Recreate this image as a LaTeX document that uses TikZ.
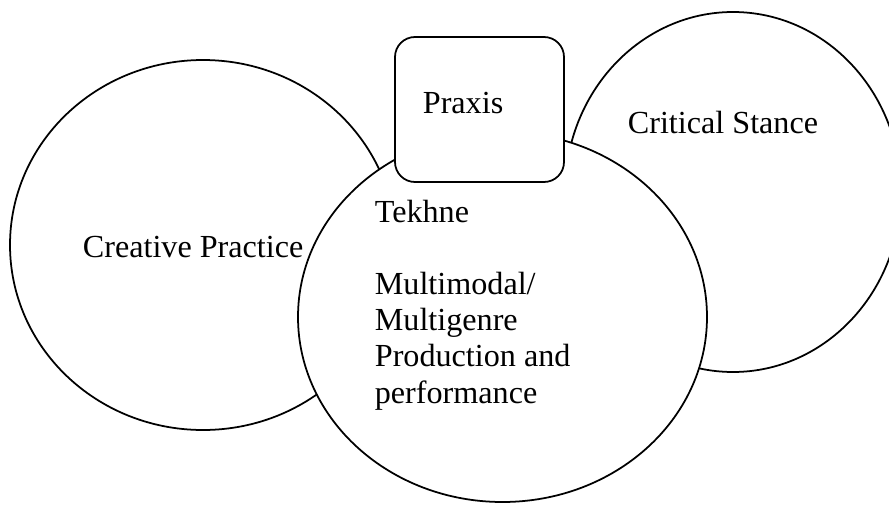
\documentclass[tikz,border=0pt]{standalone}
\usepackage{fontspec}
\setmainfont{Liberation Serif}
\usetikzlibrary{calc}

\begin{document}
\begin{tikzpicture}[x=0.02cm, y=-0.02cm, line width=1pt,
  lbl/.style={anchor=base west, inner sep=0pt, font=\fontsize{18.3}{20.5}\selectfont}]
 \useasboundingbox (0,0) rectangle (889,504);

 %circles: left, right, middle
 \foreach \cx/\cy/\rx/\ry in {203/245/193/185, 733/192/168/180, 502.5/317/204.5/185} {
         \draw[fill=white] (\cx,\cy) ellipse [x radius=\rx, y radius=\ry];
 }

 %praxis box on top
 \draw[fill=white, rounded corners=0.4cm] (395,37) rectangle (564,182);

 %labels
 \node[lbl] (praxis) at (422,113) {Praxis};
 \node[lbl] (critical) at (627,133) {Critical Stance};
 \node[lbl] (creative) at (82,257) {Creative Practice};
 % base of a multi-line node sits on its last line
 \node[lbl, align=left] (tekhne) at (374,403)
   {Tekhne\\[21pt]Multimodal/\\Multigenre\\Production and\\performance};

\end{tikzpicture}
\end{document}
